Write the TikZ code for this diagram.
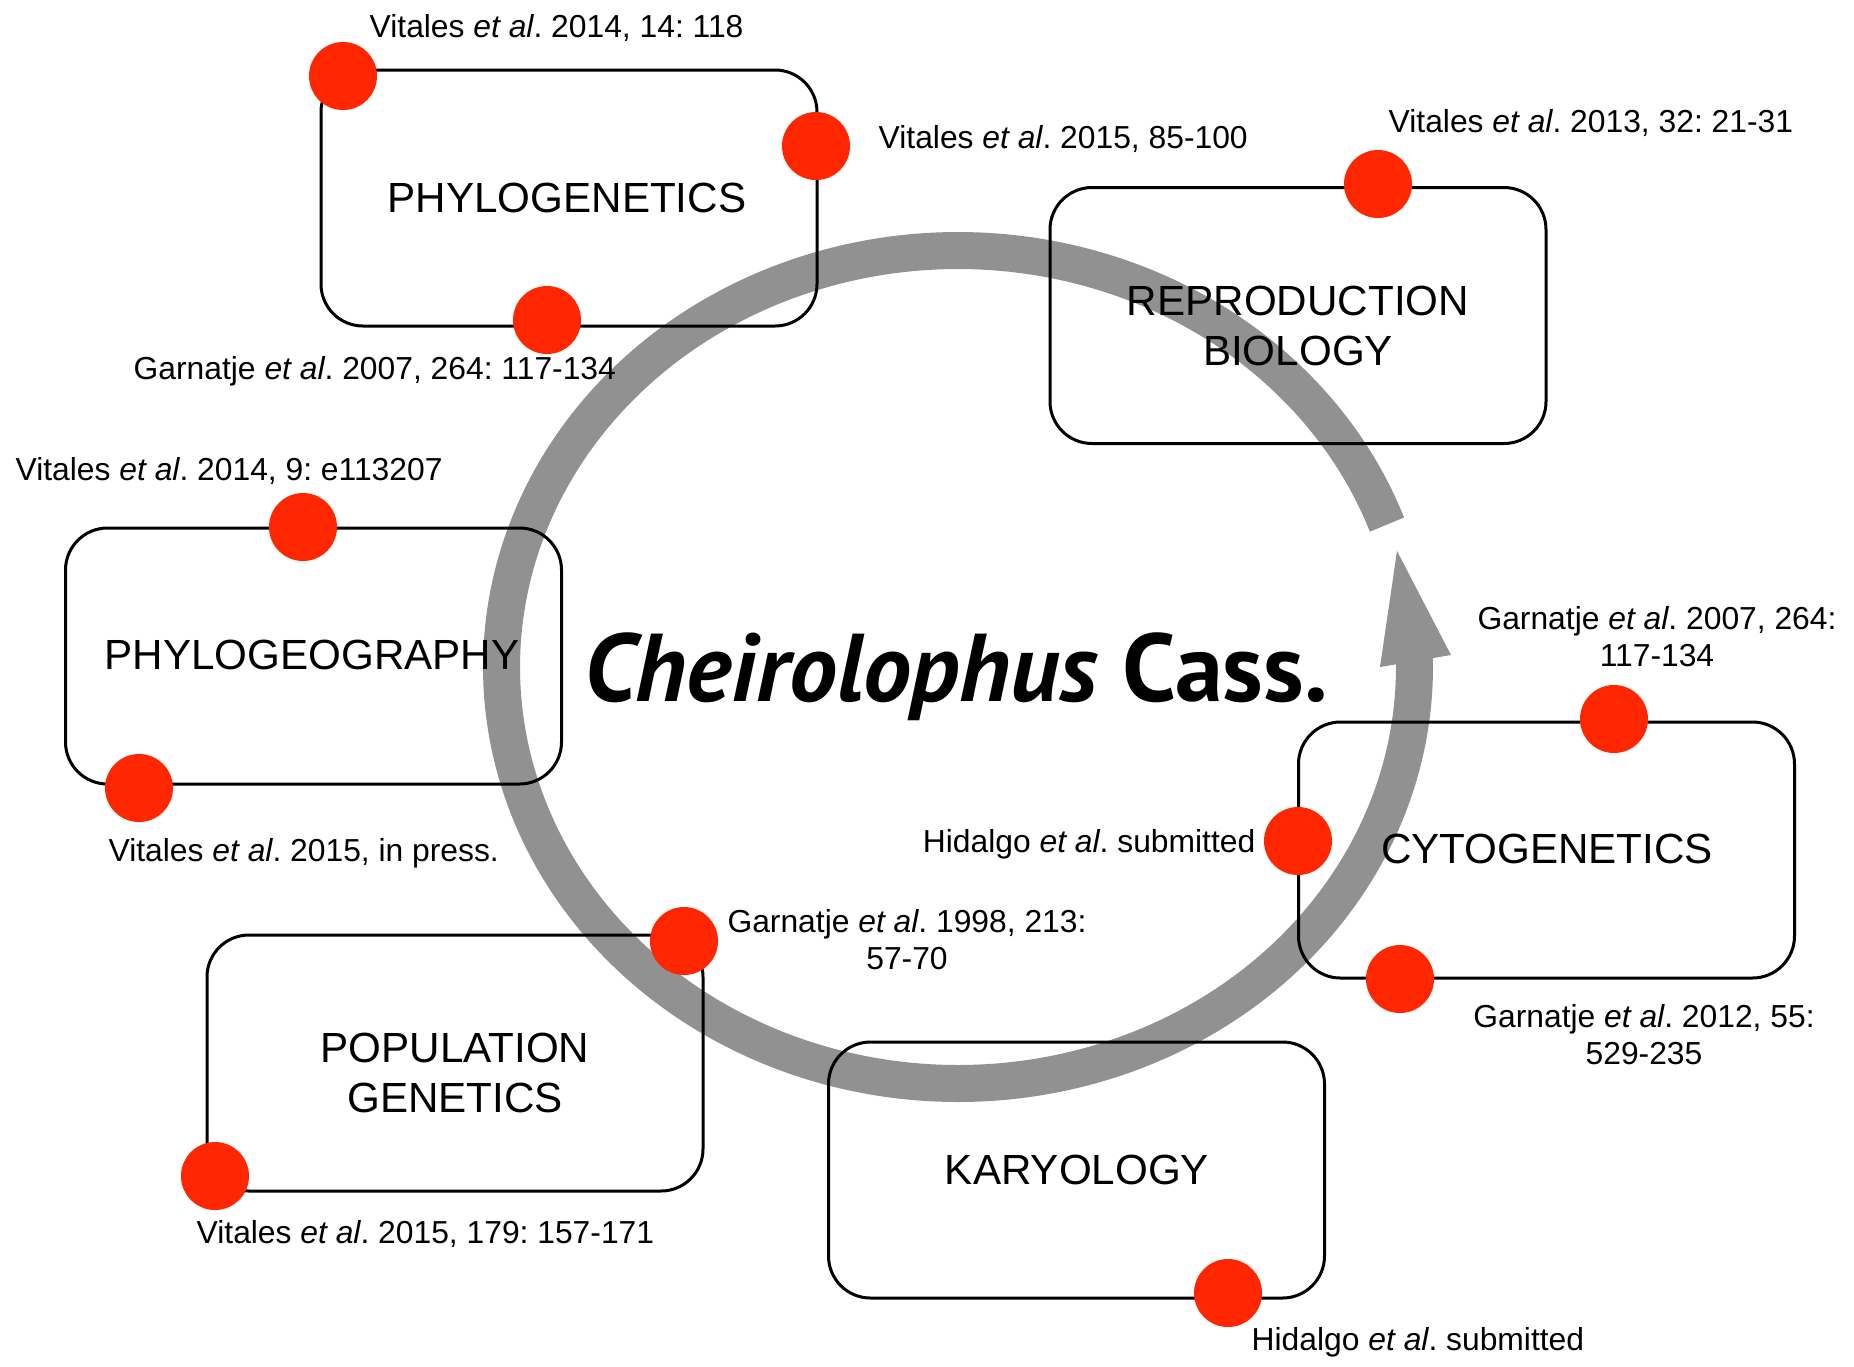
\documentclass[tikz,border=0pt]{standalone}
\usepackage{fontspec}
\setmainfont{Liberation Sans}
\newfontfamily\titlefont{PT Sans}
\definecolor{dotred}{RGB}{255,38,0}
\definecolor{ringgray}{RGB}{145,145,145}
\frenchspacing
\begin{document}
\begin{tikzpicture}[x=0.1mm,y=-0.1mm,
  topicbox/.style={draw=black, line width=0.3mm, rounded corners=4.2mm, minimum width=49.6mm, minimum height=25.6mm, inner sep=0pt},
  refdot/.style={circle, fill=dotred, minimum size=6.8mm, inner sep=0pt},
  reflabel/.style={font=\fontsize{9.05}{10.5}\selectfont, inner sep=0pt, align=center},
  topiclabel/.style={font=\fontsize{12}{14}\selectfont, inner sep=0pt, align=center},
]
\useasboundingbox[fill=white] (0,0) rectangle (1854,1366);

% ring arrow
\draw[ringgray, line width=3.7mm] plot[domain=20:361.5, samples=240, smooth] ({958+456.5*cos(\x)}, {667-416.5*sin(\x)});
\fill[ringgray] (1380,667) -- (1451,655) -- (1397,551) -- cycle;

% boxes
\node[topicbox] (phylogen) at (569,198) {};
\node[topicbox] (repro) at (1298,315.5) {};
\node[topicbox] (phylogeo) at (313.5,656) {};
\node[topicbox] (popgen) at (455,1063) {};
\node[topicbox] (karyo) at (1076.5,1170) {};
\node[topicbox] (cyto) at (1546.5,850) {};

% box texts (base = baseline of last line)
\node[topiclabel, anchor=base] (tphylogen) at (567,212) {PHYLOGENETICS};
\node[topiclabel, anchor=base] (trepro) at (1298,365) {REPRODUCTION\\BIOLOGY};
\node[topiclabel, anchor=base] (tphylogeo) at (312,669) {PHYLOGEOGRAPHY};
\node[topiclabel, anchor=base] (tpopgen) at (455,1112) {POPULATION\\GENETICS};
\node[topiclabel, anchor=base] (tkaryo) at (1077,1184) {KARYOLOGY};
\node[topiclabel, anchor=base] (tcyto) at (1547,863) {CYTOGENETICS};

% title
\node[anchor=base, inner sep=0pt, font=\fontsize{27.4}{30}\selectfont] (title) at (956,701) {\titlefont\bfseries\itshape Cheirolophus \upshape Cass.};

% dots
\node[refdot] (d1) at (343,76) {};
\node[refdot] (d2) at (816,146) {};
\node[refdot] (d3) at (547,320) {};
\node[refdot] (d4) at (1378,184) {};
\node[refdot] (d5) at (303,527) {};
\node[refdot] (d6) at (139,788) {};
\node[refdot] (d7) at (684,941) {};
\node[refdot] (d8) at (215,1176) {};
\node[refdot] (d9) at (1228,1293) {};
\node[refdot] (d10) at (1614,719) {};
\node[refdot] (d11) at (1298,841) {};
\node[refdot] (d12) at (1400,979) {};

% reference labels
\node[reflabel, anchor=base west] (l1) at (369,37) {Vitales \textit{et al}. 2014, 14: 118};
\node[reflabel, anchor=base west] (l2) at (878,148) {Vitales \textit{et al}. 2015, 85-100};
\node[reflabel, anchor=base west] (l3) at (133,379) {Garnatje \textit{et al}. 2007, 264: 117-134};
\node[reflabel, anchor=base west] (l4) at (15,480) {Vitales \textit{et al}. 2014, 9: e113207};
\node[reflabel, anchor=base west] (l5) at (108,861) {Vitales \textit{et al}. 2015, in press.};
\node[reflabel, anchor=base] (l6) at (907,969) {Garnatje \textit{et al}. 1998, 213:\\57-70};
\node[reflabel, anchor=base west] (l7) at (196,1243) {Vitales \textit{et al}. 2015, 179: 157-171};
\node[reflabel, anchor=base west] (l8) at (1251,1350) {Hidalgo \textit{et al}. submitted};
\node[reflabel, anchor=base east] (l9) at (1256,852) {Hidalgo \textit{et al}. submitted};
\node[reflabel, anchor=base] (l10) at (1644,1064) {Garnatje \textit{et al}. 2012, 55:\\529-235};
\node[reflabel, anchor=base] (l11) at (1657,666) {Garnatje \textit{et al}. 2007, 264:\\117-134};
\node[reflabel, anchor=base west] (l12) at (1388,132) {Vitales \textit{et al}. 2013, 32: 21-31};
\end{tikzpicture}
\end{document}
